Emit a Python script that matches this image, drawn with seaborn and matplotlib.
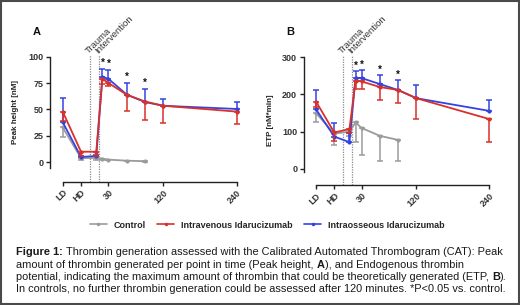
import matplotlib
matplotlib.use("Agg")
import matplotlib.pyplot as plt
import seaborn as sns
from matplotlib.lines import Line2D
from matplotlib.patches import Rectangle

# ---- data ----
time_min = [-45, -15, 10, 20, 30, 60, 90, 120, 240]
tick_pos = [-45, -15, 30, 120, 240]
tick_labels = ["LD", "HD", "30", "120", "240"]
trauma_min = 0
intervention_min = 15
star_min = [20, 30, 60, 90]

# Panel A: peak height [nM]
peak_ctrl = [33, 4, 4, 3.5, 2.5, 1.5, 1]
peak_ctrl_lo = [9, 1.5, 1.5, 1, 0.5, 0.5, 0.3]
peak_iv = [48, 10, 10, 79, 75, 64, 57.5, 53.5, 48]
peak_iv_lo = [9, 4, 4, 5, 3, 15, 17.5, 16, 12]
peak_io = [38, 5, 6, 81, 79, 64, 57, 53.5, 50.5]
peak_io_hi = [23, 1, 1, 7, 8, 11, 12, 6, 7]

# Panel B: ETP [nM*min]
etp_ctrl = [150, 95, 100, 125, 110, 89, 78]
etp_ctrl_lo = [23, 31, 12, 52, 72, 68, 57]
etp_iv = [181, 98, 107, 237, 235, 220, 212, 190, 134]
etp_iv_lo = [15, 23, 10, 22, 21, 35, 34, 56, 61]
etp_io = [160, 87, 72, 245, 244, 228, 212, 190, 156]
etp_io_hi = [52, 37, 25, 17, 22, 25, 27, 36, 30]

series_names = ["Control", "Intravenous Idarucizumab", "Intraosseous Idarucizumab"]

# ---- style ----
sns.set_theme(style="ticks")
plt.rcParams["font.family"] = ["Liberation Sans", "DejaVu Sans"]

C_CTRL = "#9b9b9b"
C_IV = "#d8302a"
C_IO = "#3443e0"
AX_COL = "#222222"

W, H = 520, 305
fig = plt.figure(figsize=(W / 100, H / 100), dpi=100)
fig.patch.set_facecolor("white")

axA = fig.add_axes([50 / W, 1 - 181.7 / H, 192 / W, 126.7 / H])
axB = fig.add_axes([303.5 / W, 1 - 185 / H, 191.5 / W, 130 / H])


def draw_panel(ax, ctrl, ctrl_lo, iv, iv_lo, io, io_hi, xlim, ylim, yticks,
               left_bound, ylabel, label_xy, star_gap):
    n_ctrl = len(ctrl)
    t_ctrl = time_min[:n_ctrl]

    # control (one-sided lower error)
    sns.lineplot(x=t_ctrl, y=ctrl, color=C_CTRL, marker="o", markersize=3,
                 markeredgewidth=0, lw=1.3, ax=ax, legend=False, zorder=3)
    ax.errorbar(t_ctrl, ctrl, yerr=[ctrl_lo, [0] * n_ctrl], fmt="none",
                ecolor=C_CTRL, elinewidth=1.1, capsize=2, capthick=1.1, zorder=2)

    # intraosseous (upper error)
    sns.lineplot(x=time_min, y=io, color=C_IO, marker="o", markersize=3,
                 markeredgewidth=0, lw=1.3, ax=ax, legend=False, zorder=5)
    ax.errorbar(time_min, io, yerr=[[0] * len(io), io_hi], fmt="none",
                ecolor=C_IO, elinewidth=1.1, capsize=2, capthick=1.1, zorder=4)

    # intravenous (lower error)
    sns.lineplot(x=time_min, y=iv, color=C_IV, marker="o", markersize=3,
                 markeredgewidth=0, lw=1.3, ax=ax, legend=False, zorder=7)
    ax.errorbar(time_min, iv, yerr=[iv_lo, [0] * len(iv)], fmt="none",
                ecolor=C_IV, elinewidth=1.1, capsize=2, capthick=1.1, zorder=6)

    # significance stars above the blue error bars
    for t in star_min:
        i = time_min.index(t)
        ax.text(t, io[i] + io_hi[i] + star_gap, "*", ha="center", va="center",
                fontsize=7, fontweight="bold", color="#111111", zorder=8)

    # trauma / intervention markers
    for t, txt in [(trauma_min, "Trauma"), (intervention_min, "Intervention")]:
        ax.axvline(t, color="#8a8a8a", ls=(0, (1, 1)), lw=0.9, zorder=1)
        ax.annotate(txt, xy=(t, 1), xycoords=ax.get_xaxis_transform(),
                    xytext=(0, 0), textcoords="offset points", rotation=45,
                    rotation_mode="anchor", ha="left", va="bottom",
                    fontsize=6.8, color="#333333", annotation_clip=False)

    ax.set_xlim(*xlim)
    ax.set_ylim(*ylim)
    ax.set_xticks(tick_pos)
    ax.set_xticklabels(tick_labels, rotation=45, ha="right",
                       rotation_mode="anchor", fontweight="bold", fontsize=6.5,
                       color="#333333")
    ax.set_yticks(yticks)
    ax.set_yticklabels([str(v) for v in yticks], fontweight="bold",
                       fontsize=6.5, color="#333333")
    ax.tick_params(axis="both", length=3, width=1, color=AX_COL, pad=1.5)
    ax.set_xlabel("")
    ax.set_ylabel(ylabel, fontsize=5.8, fontweight="bold", color="#222222")
    ax.yaxis.set_label_coords(*label_xy)

    sns.despine(ax=ax)
    ax.set_facecolor("none")
    for side in ["left", "bottom"]:
        ax.spines[side].set_color(AX_COL)
        ax.spines[side].set_linewidth(1.0)
    ax.spines["left"].set_bounds(left_bound, yticks[-1])
    ax.spines["bottom"].set_bounds(tick_pos[0], tick_pos[-1])


draw_panel(axA, peak_ctrl, peak_ctrl_lo, peak_iv, peak_iv_lo, peak_io, peak_io_hi,
           xlim=(-65.8, 248.7), ylim=(-18.4, 101.6), yticks=[0, 25, 50, 75, 100],
           left_bound=-5, ylabel="Peak height [nM]", label_xy=(-0.16, 0.55),
           star_gap=6)
draw_panel(axB, etp_ctrl, etp_ctrl_lo, etp_iv, etp_iv_lo, etp_io, etp_io_hi,
           xlim=(-65.6, 249.4), ylim=(-43, 306), yticks=[0, 100, 200, 300],
           left_bound=-8, ylabel="ETP [nM*min]", label_xy=(-0.155, 0.5),
           star_gap=14)

fig.text(37 / W, 1 - 32 / H, "A", ha="center", va="center", fontsize=8,
         fontweight="bold", color="#111111")
fig.text(290 / W, 1 - 32 / H, "B", ha="center", va="center", fontsize=8,
         fontweight="bold", color="#111111")

# legend
handles = [Line2D([], [], color=c, lw=1.2, marker="o", markersize=2.5,
                  markeredgewidth=0) for c in (C_CTRL, C_IV, C_IO)]
fig.legend(handles, series_names, loc="center", bbox_to_anchor=(267 / W, 1 - 225 / H),
           ncol=3, frameon=False, handlelength=1.9, handletextpad=0.7,
           columnspacing=1.3, prop={"weight": "bold", "size": 6.5})

# caption with bold pieces
renderer = fig.canvas.get_renderer()
CAP_SIZE = 7.9
SPACE = 0.278 * CAP_SIZE * 100 / 72


def rich_line(y_base, parts):
    x = 16.0
    for txt, weight, gap in parts:
        x += gap
        t = fig.text(x / W, 1 - y_base / H, txt, ha="left", va="baseline",
                     fontsize=CAP_SIZE, fontweight=weight, color="#1a1a1a")
        x = t.get_window_extent(renderer).x1


rich_line(255, [("Figure 1:", "bold", 0),
                ("Thrombin generation assessed with the Calibrated Automated "
                 "Thrombogram (CAT): Peak", "normal", SPACE)])
rich_line(267.5, [("amount of thrombin generated per point in time (Peak height,", "normal", 0),
                  ("A", "bold", SPACE),
                  ("), and Endogenous thrombin", "normal", 0)])
rich_line(280, [("potential, indicating the maximum amount of thrombin that could be "
                 "theoretically generated (ETP,", "normal", 0),
                ("B", "bold", SPACE),
                (").", "normal", 0)])
rich_line(292.5, [("In controls, no further thrombin generation could be assessed after "
                   "120 minutes. *P<0.05 vs. control.", "normal", 0)])

# outer frame
fig.patches.append(Rectangle((1 / W, 1 / H), 1 - 2 / W, 1 - 2 / H,
                             transform=fig.transFigure, fill=False,
                             edgecolor="#4a4a4a", lw=1.5))

fig.savefig("out.png", dpi=100)
